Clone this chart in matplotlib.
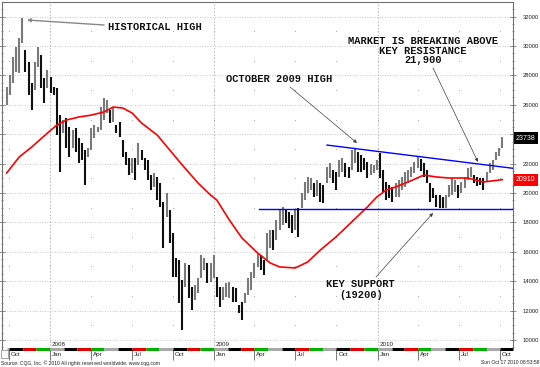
import numpy as np
import pandas as pd
import matplotlib
matplotlib.use("Agg")
import matplotlib.pyplot as plt
from matplotlib import transforms
from matplotlib.ticker import MultipleLocator
from matplotlib.patches import Rectangle

# weekly bars (one per week, first one late Sep 2007)
week_start = "2007-09-26"
highs = [27210, 28020, 29250, 29930, 30540, 31900, 29720, 28910, 27480, 28910,
         29930, 29380, 27820, 28360, 27890, 27210, 27140, 25300, 24960, 25100,
         24490, 24280, 24420, 23740, 23400, 22920, 23060, 24420, 24620, 24490,
         25850, 26460, 26320, 25640, 25780, 24620, 24830, 23600, 22790, 22380,
         22380, 22380, 23400, 22920, 22380, 22240, 21220, 21360, 21090, 20680,
         19390, 20000, 18840, 17280, 15580, 15440, 14080, 15240, 15100, 13610,
         13740, 14220, 15780, 15580, 15240, 15240, 15780, 14290, 13610, 13610,
         13880, 13950, 13610, 13540, 12380, 12590, 13200, 14220, 14630, 15240,
         15920, 15780, 15440, 17280, 17480, 17480, 18160, 18840, 19050, 18840,
         18710, 18500, 18840, 18980, 20000, 20750, 21090, 21020, 20680, 20890,
         20680, 20540, 21770, 22040, 21560, 21430, 22240, 22380, 22040, 21770,
         22920, 23060, 22790, 22580, 22380, 22110, 22000, 21900, 22240, 22720,
         21560, 20750, 20540, 20410, 20680, 20880, 21090, 21430, 21560, 21770,
         22110, 22450, 22300, 22040, 21560, 20680, 20340, 19860, 19860, 19730,
         19860, 20540, 21020, 20880, 20540, 20750, 21090, 21700, 21770, 21220,
         21100, 21020, 21020, 21430, 22040, 22240, 22790, 23060, 23810]
lows = [25990, 26660, 27480, 28230, 28160, 30200, 28230, 26660, 25640, 27000,
        28570, 27140, 26120, 27140, 26800, 26660, 23940, 21430, 24080, 23060,
        22450, 23060, 22790, 22040, 22240, 20540, 22450, 22920, 23740, 24150,
        24280, 24960, 25440, 24760, 24830, 24080, 23810, 22450, 21900, 21220,
        21360, 20880, 21900, 22240, 21560, 20880, 20200, 20410, 19520, 19050,
        16260, 18370, 16600, 14290, 14290, 12520, 10680, 13610, 12860, 12040,
        12720, 13200, 14220, 14760, 13880, 13950, 14220, 12930, 12250, 12720,
        12930, 12860, 12590, 12590, 11840, 11360, 12520, 13060, 13400, 14220,
        14970, 14760, 14420, 15440, 16260, 16120, 16800, 17480, 17820, 17960,
        17620, 17280, 17480, 17010, 18980, 19520, 20000, 20200, 19730, 19800,
        19390, 19320, 20680, 21020, 20680, 20200, 21090, 21430, 21090, 21020,
        21560, 22040, 21430, 21430, 21560, 21020, 21200, 21360, 21560, 21020,
        20070, 19520, 19660, 19390, 19730, 19730, 20200, 20410, 20680, 21090,
        21360, 21700, 21500, 21090, 20680, 19390, 19660, 19050, 18980, 18980,
        18980, 19730, 19860, 20070, 19660, 20000, 20340, 20880, 21090, 20680,
        20500, 20540, 20200, 20750, 21360, 21560, 22240, 22520, 23060]

# moving average, sampled at bar indices
ma_idx = [0, 4, 8, 13, 16, 19, 23, 27, 31, 34, 37, 40, 43, 48, 52, 56, 61, 65,
          67, 71, 75, 78, 80, 84, 87, 92, 96, 100, 105, 110, 115, 118, 121, 124,
          128, 133, 137, 141, 147, 152, 157, 158]
ma_vals = [21360, 22450, 23130, 24080, 24620, 24960, 25170, 25300, 25510, 25850,
           25780, 25440, 24760, 23940, 22920, 21900, 20680, 19860, 19520, 18160,
           16940, 16330, 15920, 15240, 14970, 14900, 15310, 16120, 17010, 18030,
           19050, 19730, 20200, 20410, 20750, 21220, 21090, 21020, 21020, 20750,
           20880, 20910]

# trend lines
support_level = 18900
support_dates = ["2009-04-11", "2010-10-30"]
resist_dates = ["2009-09-10", "2010-10-30"]
resist_vals = [23260, 21680]

last_price = 23738
last_ma = 20910

price_ticks = list(range(10000, 32001, 2000))
year_starts = ["2008-01-01", "2009-01-01", "2010-01-01"]

W, H = 540, 367
plt.rcParams['font.family'] = ['Liberation Sans', 'DejaVu Sans']


def px(x, y):
    return (x / W, 1 - y / H)


fig = plt.figure(figsize=(W / 100, H / 100), dpi=100)
ax = fig.add_axes([2 / W, 1 - 349 / H, 511 / W, 347 / H])
x0 = pd.Timestamp("2007-09-15 14:00")
x1 = pd.Timestamp("2010-10-30")
ax.set_xlim(x0, x1)
ax.set_ylim(9387, 32994)

# grid
for lv in price_ticks:
    ax.axhline(lv, color='#b4b4b4', lw=0.6, ls=(0, (1, 2)), zorder=0)
for d in year_starts:
    ax.axvline(pd.Timestamp(d), color='#b4b4b4', lw=0.6, ls=(0, (2, 2)), zorder=0)
quarters = pd.date_range("2007-10-01", "2010-10-01", freq="QS")
qx, qy = np.meshgrid(quarters, np.arange(11000, 32000, 2000))
ax.scatter(qx.ravel(), qy.ravel(), s=0.6, color='#a0a0a0', lw=0, zorder=0)

# bars
dates = pd.date_range(week_start, periods=len(highs), freq="7D")
h = np.array(highs)
l = np.array(lows)
mid = (h + l) / 2
cols = ['#7a7a7a'] + ['#7a7a7a' if mid[i] >= mid[i - 1] else '#101010'
                      for i in range(1, len(mid))]
ax.vlines(dates, l, h, colors=cols, lw=1.5, zorder=3)

# moving average
ax.plot(dates[ma_idx], ma_vals, color='#ff0000', lw=1.2, zorder=4)

# support / resistance
ax.plot(pd.to_datetime(support_dates), [support_level] * 2, color='#0000ff', lw=1.0, zorder=5)
ax.plot(pd.to_datetime(resist_dates), resist_vals, color='#0000ff', lw=1.0, zorder=5)

# axes styling
for s in ['left', 'top', 'right']:
    ax.spines[s].set_color('#707070')
    ax.spines[s].set_linewidth(0.8)
ax.spines['bottom'].set_visible(False)

ax.set_yticks(price_ticks)
ax.yaxis.set_minor_locator(MultipleLocator(500))
ax.tick_params(axis='y', which='major', left=True, right=True, labelleft=False,
               labelright=True, direction='inout', length=4, width=0.5,
               color='#606060', labelsize=4.2, pad=5, labelcolor='#202020')
ax.tick_params(axis='y', which='minor', left=True, right=True, direction='inout',
               length=2, width=0.4, color='#606060')
ax.set_xticks(quarters)
ax.tick_params(axis='x', length=8, width=0.6, color='#606060', labelbottom=False)

# month strip along the bottom
months = pd.date_range("2007-10-01", "2010-11-01", freq="MS")
strip_cols = ['#000000', '#e00000', '#00b000', '#a8a8a8']
xt = ax.get_xaxis_transform()
ax.plot([dates[0], months[0]], [0, 0], color=strip_cols[3], lw=2.2,
        transform=xt, clip_on=False, solid_capstyle='butt')
for k in range(len(months) - 1):
    a, b = months[k], min(months[k + 1], x1)
    ax.plot([a, b], [0, 0], color=strip_cols[k % 4], lw=2.2, transform=xt,
            clip_on=False, solid_capstyle='butt')

lab_tr = transforms.offset_copy(xt, fig=fig, x=2, units='dots')
for q in quarters:
    ax.text(q, -0.017, q.strftime('%b'), transform=lab_tr, fontsize=4.5,
            ha='left', va='center', color='#202020')
for d in year_starts:
    ax.text(pd.Timestamp(d), 0.012, d[:4], transform=lab_tr, fontsize=4.5,
            ha='left', va='center', color='#202020')

# last price / average boxes on the right axis
bt = transforms.blended_transform_factory(ax.transAxes, ax.transData)
ax.text(1.006, last_price, f"{last_price}", transform=bt, fontsize=5, color='white',
        ha='left', va='center', bbox=dict(boxstyle='square,pad=0.35', fc='black', ec='none'))
ax.text(1.006, last_ma, f"{last_ma}", transform=bt, fontsize=5, color='white',
        ha='left', va='center', bbox=dict(boxstyle='square,pad=0.35', fc='#ff0000', ec='none'))

# annotations
fp = dict(family='Liberation Mono', weight='bold', size=7.5, color='#101010')
fig.text(*px(154.5, 27), "HISTORICAL HIGH", ha='center', va='center', **fp)
fig.text(*px(279.5, 79), "OCTOBER 2009 HIGH", ha='center', va='center', **fp)
fig.text(*px(423, 41), "MARKET IS BREAKING ABOVE", ha='center', va='center', **fp)
fig.text(*px(423, 50.5), "KEY RESISTANCE", ha='center', va='center', **fp)
fig.text(*px(423, 60), "21,900", ha='center', va='center', **fp)
fig.text(*px(360.5, 284), "KEY SUPPORT", ha='center', va='center', **fp)
fig.text(*px(361, 295), "(19200)", ha='center', va='center', **fp)

arrows = [((104, 25), (27, 20), '#888888', 1.0),
          ((290, 87), (357, 143), '#404040', 0.5),
          ((433, 68), (478, 162), '#404040', 0.5),
          ((376, 277), (433, 213), '#404040', 0.5)]
for start, end, c, w in arrows:
    ax.annotate('', xy=px(*end), xytext=px(*start), xycoords='figure fraction',
                textcoords='figure fraction',
                arrowprops=dict(arrowstyle='-|>', color=c, lw=w, mutation_scale=5,
                                shrinkA=0, shrinkB=0), zorder=6)

# footer
fig.text(*px(1, 363), "Source: CQG, Inc. \u00a9 2010 All rights reserved worldwide. www.cqg.com",
         fontsize=3.6, ha='left', va='center', color='#202020')
fig.text(*px(539, 363), "Sun Oct 17 2010 08:53:58", fontsize=3.6, ha='right',
         va='center', color='#202020')
fig.patches.append(Rectangle(px(0.5, 358), 7 / W, 8 / H, transform=fig.transFigure,
                             fill=False, ec='#808080', lw=0.5))

fig.savefig("out.png", dpi=100)
